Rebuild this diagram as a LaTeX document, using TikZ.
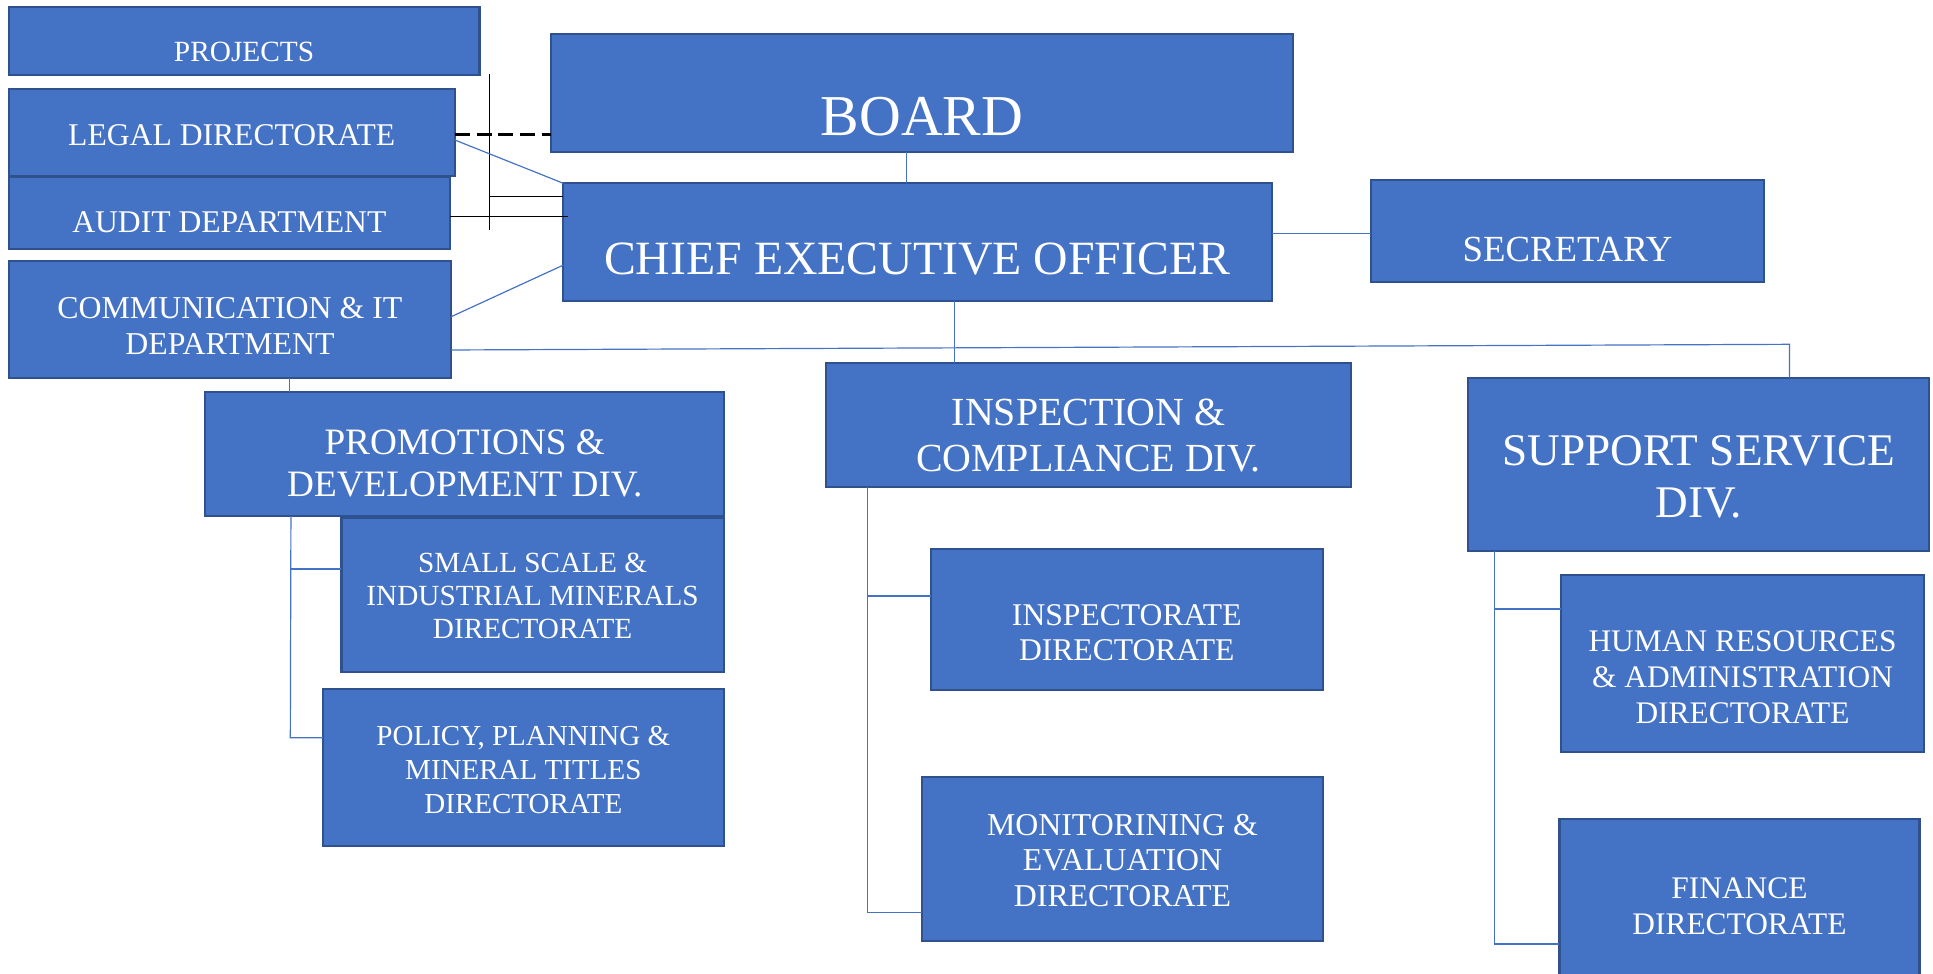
\documentclass[tikz,border=0pt]{standalone}
\usepackage{fontspec}
\setmainfont{Liberation Serif}
\definecolor{boxfill}{HTML}{4472C4}
\definecolor{boxline}{HTML}{2F528F}
\definecolor{linkblue}{HTML}{4472C4}
\newcommand\fsz[2]{\fontsize{#1pt}{#2pt}\selectfont}
% rectangle from (x1,y1) to (x2,y2), y measured downward
\newcommand\OrgBox[5]{%
  \node[orgbox, minimum width={(#4-#2)*0.02cm}, minimum height={(#5-#3)*0.02cm}]
    (#1) at ({(#2+#4)/2},{(#3+#5)/2}) {};}
\tikzset{
  orgbox/.style={draw=boxline, fill=boxfill, line width=1pt, inner sep=0pt, outer sep=0pt},
  orgtext/.style={text=white, align=center, inner sep=0pt},
  link/.style={draw=linkblue, line width=0.55pt},
  rule/.style={draw=black, line width=0.6pt},
  dashrule/.style={draw=black, line width=1.6pt, dash pattern=on 7pt off 3pt},
}
\begin{document}
\begin{tikzpicture}[x=0.02cm, y=-0.02cm]
\useasboundingbox (0,0) rectangle (1568,790);
\clip (0,0) rectangle (1568,790);

% boxes
\OrgBox{projects}{7}{5.4}{389}{60.8}
\OrgBox{legal}{7}{72.5}{369}{142.8}
\OrgBox{audit}{7}{143.3}{365}{201.7}
\OrgBox{comm}{7}{211.7}{366}{306.9}
\OrgBox{board}{447}{27.8}{1049}{123}
\OrgBox{ceo}{457}{148.7}{1032}{244.2}
\OrgBox{secretary}{1112}{146}{1431}{229}
\OrgBox{promo}{166}{317.7}{587}{418.6}
\OrgBox{inspdiv}{670}{294.2}{1096}{395.3}
\OrgBox{support}{1191}{306.3}{1565}{446.7}
\OrgBox{small}{277}{420}{587}{544.8}
\OrgBox{policy}{262}{559.2}{587}{686.2}
\OrgBox{inspdir}{755}{445.6}{1073}{559.7}
\OrgBox{monitor}{748}{630.5}{1073}{763.3}
\OrgBox{hr}{1266}{466.4}{1561}{609.7}
\OrgBox{finance}{1265}{664.6}{1557}{820}

% box texts
\node[orgtext, font=\fsz{13.55}{15.6}] (projects-t) at (198,42) {PROJECTS};
\node[orgtext, font=\fsz{14.6}{16.9}] (legal-t) at (188,109.5) {LEGAL DIRECTORATE};
\node[orgtext, font=\fsz{14.6}{16.9}] (audit-t) at (186,180.1) {AUDIT DEPARTMENT};
\node[orgtext, font=\fsz{14.7}{16.9}] (comm-t) at (186.5,264.3) {COMMUNICATION \& IT\\DEPARTMENT};
\node[orgtext, font=\fsz{26.7}{30}] (board-t) at (748,94.4) {BOARD};
\node[orgtext, font=\fsz{22.05}{25}] (ceo-t) at (744,210.3) {CHIEF EXECUTIVE OFFICER};
\node[orgtext, font=\fsz{17}{19.5}] (secretary-t) at (1271.5,202.5) {SECRETARY};
\node[orgtext, font=\fsz{17.2}{19.2}] (promo-t) at (377,375.9) {PROMOTIONS \&\\DEVELOPMENT DIV.};
\node[orgtext, font=\fsz{18.4}{21}] (inspdiv-t) at (883,353.5) {INSPECTION \&\\COMPLIANCE DIV.};
\node[orgtext, font=\fsz{20.9}{23.8}] (support-t) at (1378,386.7) {SUPPORT SERVICE\\DIV.};
\node[orgtext, font=\fsz{13.5}{15.3}] (small-t) at (432,483.6) {SMALL SCALE \&\\INDUSTRIAL MINERALS\\DIRECTORATE};
\node[orgtext, font=\fsz{13.4}{15.7}] (policy-t) at (424.5,624.6) {POLICY, PLANNING \&\\MINERAL TITLES\\DIRECTORATE};
\node[orgtext, font=\fsz{14.6}{16.2}] (inspdir-t) at (914,513.4) {INSPECTORATE\\DIRECTORATE};
\node[orgtext, font=\fsz{14.7}{16.5}] (monitor-t) at (910.5,698) {MONITORINING \&\\EVALUATION\\DIRECTORATE};
\node[orgtext, font=\fsz{14.5}{16.6}] (hr-t) at (1413.5,549.5) {HUMAN RESOURCES\\\& ADMINISTRATION\\DIRECTORATE};
\node[orgtext, font=\fsz{14.5}{16.5}] (finance-t) at (1411,735.3) {FINANCE\\DIRECTORATE};

% black reporting lines on the left
\coordinate (vtop) at (397,60);
\coordinate (vbot) at (397,186.6);
\coordinate (vmid) at (397,159.5);
\coordinate (auditend) at (461,175.8);
\draw[rule] (vtop) -- (vbot);
\draw[rule] (vmid) -- (ceo.west |- vmid);
\draw[rule] (audit.east |- auditend) -- (auditend);
\draw[dashrule] (legal.east |- 0,109) -- (board.west |- 0,109);

% blue connectors
\draw[link] (board.south -| 735,0) -- (ceo.north -| 735,0);
\draw[link] (ceo.east |- 0,189.3) -- (secretary.west |- 0,189.3);
\draw[link] (ceo.south -| 774,0) -- (inspdiv.north -| 774,0);
\draw[link] (legal.east |- 0,113.6) -- (ceo.north west);
\draw[link] (comm.east |- 0,256.9) -- (ceo.west |- 0,215);
\coordinate (crossbar) at (1451.5,279.3);
\draw[link] (comm.east |- 0,283.9) -- (crossbar) -- (support.north -| crossbar);
\draw[link] (comm.south -| 235,0) -- (promo.north -| 235,0);

% promotions & development branches
\coordinate (pd-mid) at (236,461.5);
\coordinate (pd-bot) at (235.5,598.4);
\draw[link] (promo.south -| 236,0) -- (pd-bot) -- (policy.west |- pd-bot);
\draw[link] (pd-mid) -- (small.west |- pd-mid);

% inspection & compliance branches
\coordinate (ic-mid) at (704,483.5);
\coordinate (ic-bot) at (704,740);
\draw[link] (inspdiv.south -| ic-bot) -- (ic-bot) -- (monitor.west |- ic-bot);
\draw[link] (ic-mid) -- (inspdir.west |- ic-mid);

% support service branches
\coordinate (ss-mid) at (1212,494);
\coordinate (ss-bot) at (1212,765.8);
\draw[link] (support.south -| ss-bot) -- (ss-bot) -- (finance.west |- ss-bot);
\draw[link] (ss-mid) -- (hr.west |- ss-mid);
\end{tikzpicture}
\end{document}
